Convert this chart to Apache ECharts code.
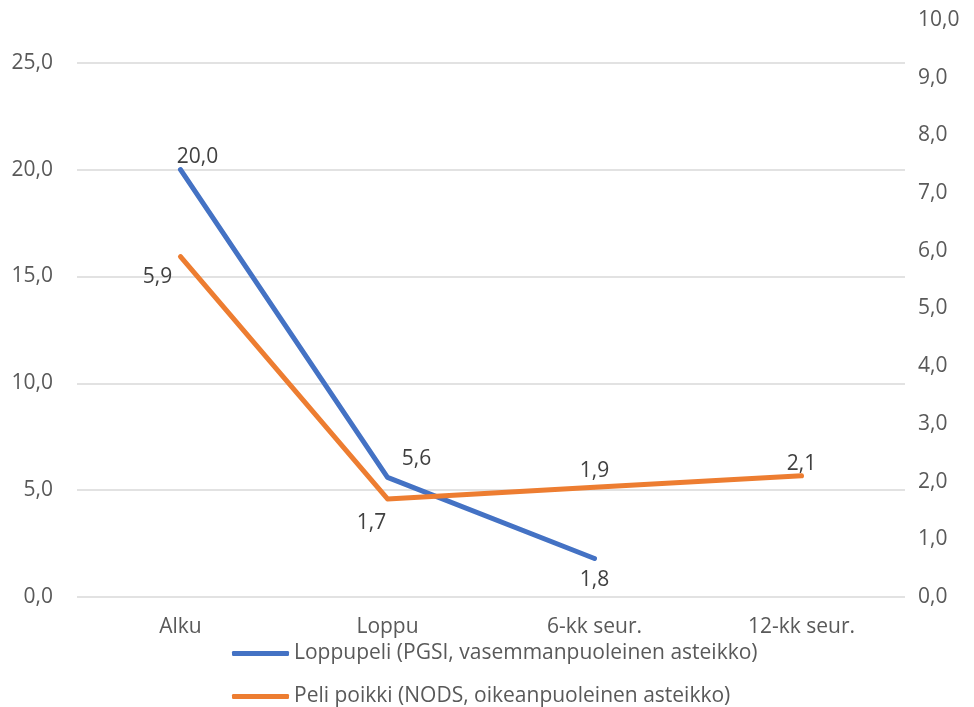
<!DOCTYPE html>
<html>
<head>
<meta charset="utf-8">
<script src="https://cdn.jsdelivr.net/npm/echarts@6/dist/echarts.min.js"></script>
<style>
  html, body { margin: 0; padding: 0; background: #fff; }
  #chart { width: 974px; height: 707px; }
</style>
</head>
<body>
<div id="chart"></div>
<script>
// Measurement points
const categories = ['Alku', 'Loppu', '6-kk seur.', '12-kk seur.'];

// PGSI scores (left axis)
const pgsiName = 'Loppupeli (PGSI, vasemmanpuoleinen asteikko)';
const pgsiValues = [20.0, 5.6, 1.8, null];

// NODS scores (right axis)
const nodsName = 'Peli poikki (NODS, oikeanpuoleinen asteikko)';
const nodsValues = [5.9, 1.7, 1.9, 2.1];

// Left axis gridline values
const leftTicks = [0, 5, 10, 15, 20, 25];

const FONT = '"Open Sans", sans-serif';
const FS = 21;
const fmt = v => Number(v).toFixed(1).replace('.', ',');

// Per-point label placement
const pgsiLabelPos = [
  { position: 'top', offset: [17, 5] },
  { position: 'top', offset: [29, -1] },
  { position: 'bottom', offset: [0, 4] },
  null
];
const nodsLabelPos = [
  { position: 'bottom', offset: [-23, 3] },
  { position: 'bottom', offset: [-16, 7] },
  { position: 'top', offset: [0, 1] },
  { position: 'top', offset: [0, 6] }
];

const withLabels = (vals, pos) => vals.map((v, i) => (v === null ? null : {
  value: v,
  label: Object.assign({}, pos[i])
}));

// One legend row per series, stacked under the category labels
const legendRow = (name, top) => ({
  orient: 'horizontal',
  left: 227,
  top: top,
  icon: 'roundRect',
  itemWidth: 57,
  itemHeight: 5,
  textStyle: { fontFamily: FONT, fontSize: FS, color: '#595959' },
  data: [name]
});

const chart = echarts.init(document.getElementById('chart'), null, { renderer: 'canvas' });

chart.setOption({
  backgroundColor: '#ffffff',
  animation: false,
  grid: { left: 77, right: 69, top: 20, bottom: 110 },
  legend: [legendRow(pgsiName, 638), legendRow(nodsName, 681)],
  xAxis: {
    type: 'category',
    data: categories,
    boundaryGap: true,
    axisLine: { show: false },
    axisTick: { show: false },
    axisLabel: { fontFamily: FONT, fontSize: FS, color: '#595959', margin: 20 }
  },
  yAxis: [
    {
      type: 'value',
      min: 0,
      max: 27,
      interval: 5,
      splitLine: { show: false },
      axisLine: { show: false },
      axisTick: { show: false },
      axisLabel: {
        fontFamily: FONT, fontSize: FS, color: '#595959', margin: 24,
        formatter: v => (v % 5 === 0 ? fmt(v) : '')
      }
    },
    {
      type: 'value',
      min: 0,
      max: 10,
      interval: 1,
      position: 'right',
      splitLine: { show: false },
      axisLine: { show: false },
      axisTick: { show: false },
      axisLabel: {
        fontFamily: FONT, fontSize: FS, color: '#595959', margin: 13,
        formatter: v => fmt(v)
      }
    }
  ],
  series: [
    {
      name: pgsiName,
      type: 'line',
      yAxisIndex: 0,
      data: withLabels(pgsiValues, pgsiLabelPos),
      symbol: 'circle',
      symbolSize: 4,
      showSymbol: true,
      z: 3,
      lineStyle: { color: '#4472C4', width: 5, cap: 'round', join: 'round' },
      itemStyle: { color: '#4472C4' },
      label: {
        show: true, fontFamily: FONT, fontSize: FS, color: '#404040',
        formatter: p => fmt(p.value)
      },
      markLine: {
        silent: true,
        symbol: 'none',
        z: 1,
        label: { show: false },
        lineStyle: { color: '#d9d9d9', width: 1.5, type: 'solid' },
        data: leftTicks.map(t => ({ yAxis: t }))
      }
    },
    {
      name: nodsName,
      type: 'line',
      yAxisIndex: 1,
      data: withLabels(nodsValues, nodsLabelPos),
      symbol: 'circle',
      symbolSize: 4,
      showSymbol: true,
      z: 4,
      lineStyle: { color: '#ED7D31', width: 5, cap: 'round', join: 'round' },
      itemStyle: { color: '#ED7D31' },
      label: {
        show: true, fontFamily: FONT, fontSize: FS, color: '#404040',
        formatter: p => fmt(p.value)
      }
    }
  ]
});
</script>
</body>
</html>
